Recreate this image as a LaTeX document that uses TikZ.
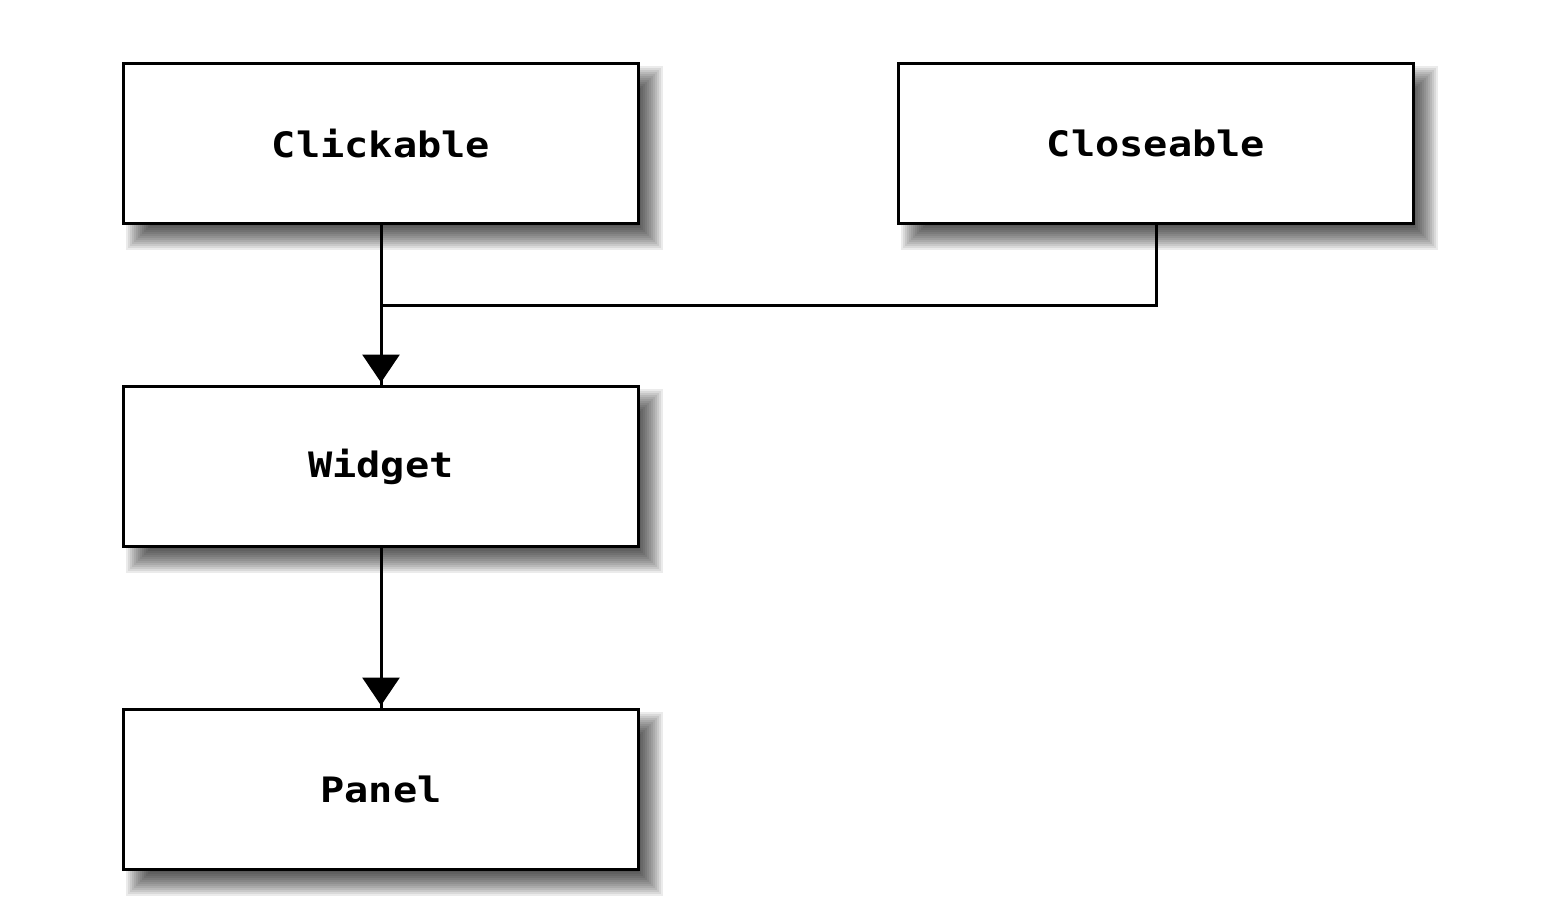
\documentclass[tikz,border=0pt]{standalone}
\usepackage{fontspec}
\newfontfamily\boxfont[FakeStretch=1.15]{DejaVu Sans Mono Bold}
\usetikzlibrary{arrows.meta,backgrounds,calc}
\tikzset{
  classbox/.style={draw=black, line width=3pt, fill=white, minimum width=515pt, minimum height=160pt, inner sep=0pt, outer sep=0pt, font=\boxfont\fontsize{35}{40}\selectfont},
  link/.style={line width=3pt, draw=black},
  inherit/.style={link, -{Triangle[width=37pt,length=28pt]}, shorten >=4pt}
}
\begin{document}
\begin{tikzpicture}[x=1pt,y=-1pt]
\useasboundingbox (0,0) rectangle (1552,922);
\node[classbox] (click) at (381,143.5) {Clickable};
\node[classbox] (close) at (1156,143.5) {Closeable};
\node[classbox] (widget) at (381,466.5) {Widget};
\node[classbox] (panel) at (381,789.5) {Panel};
\begin{scope}[on background layer]
\foreach \n in {click,close,widget,panel}{
  \foreach \k in {0,...,12}{
    \fill[black,opacity=0.08] ($(\n.north west)+(26-2*\k,26-2*\k)$) rectangle ($(\n.south east)+(0+2*\k,2+2*\k)$);
  }
}
\end{scope}
\coordinate (j) at ($(click.south)!0.5!(widget.north)$);
\draw[link] (close.south) |- (j);
\draw[link] (click.south) -- (widget.north);
\draw[inherit] (click.south) -- (widget.north);
\draw[link] (widget.south) -- (panel.north);
\draw[inherit] (widget.south) -- (panel.north);
\end{tikzpicture}
\end{document}
